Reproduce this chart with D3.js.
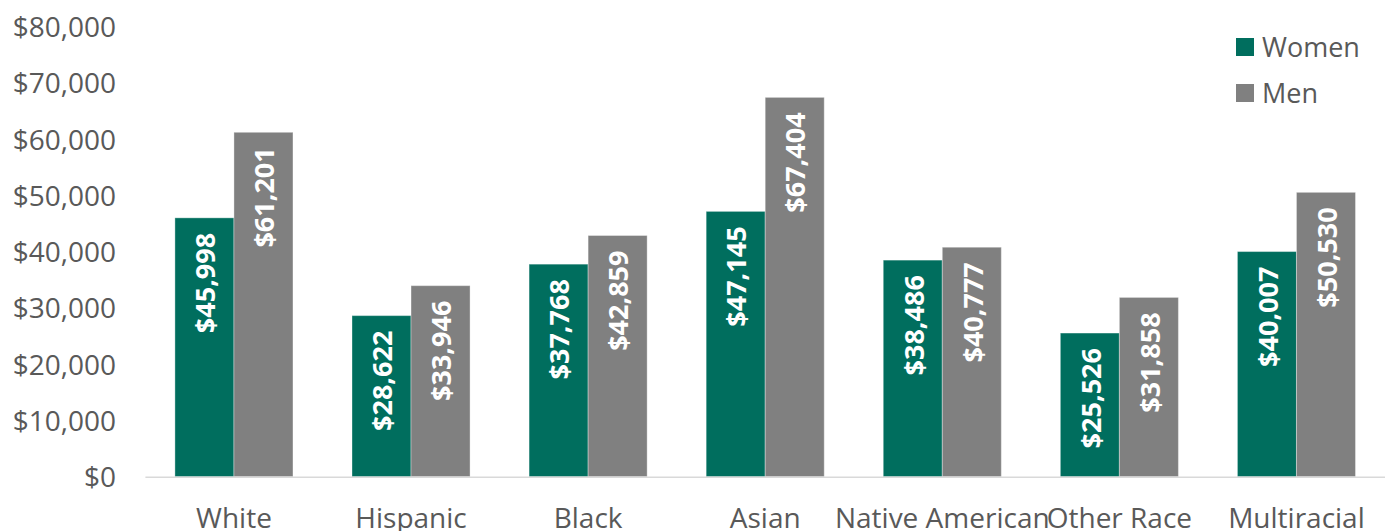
<!DOCTYPE html>
<html>
<head>
<meta charset="utf-8">
<script src="https://cdn.jsdelivr.net/npm/d3@7"></script>
<style>
  body { margin: 0; background: #fff; }
  svg text { font-family: "Open Sans", sans-serif; }
  .tick text { fill: #595959; font-size: 28px; }
  .vals { fill: #fff; font-size: 27px; font-weight: bold; }
</style>
</head>
<body>
<svg class="chart" width="1390" height="531"></svg>
<script>
const categories = ["White", "Hispanic", "Black", "Asian", "Native American", "Other Race", "Multiracial"]
const series = ["Women", "Men"]
const women = [45998, 28622, 37768, 47145, 38486, 25526, 40007]
const men = [61201, 33946, 42859, 67404, 40777, 31858, 50530]
const yTicks = [0, 10000, 20000, 30000, 40000, 50000, 60000, 70000, 80000]
const colors = ["#006e5e", "#808080"]

const svg = d3.select("svg.chart")

const x = d3.scaleBand()
    .domain(categories)
    .range([145.4, 1385])
    .paddingInner(0)
    .paddingOuter(0)

const inner = d3.scaleBand()
    .domain(series)
    .range([0, x.bandwidth()])
    .paddingInner(0)
    .paddingOuter(0.5)

const y = d3.scaleLinear()
    .domain([0, 80000])
    .range([476.7, 26.5])

const money = d3.format("$,")

// y axis labels only, no line
const yAxis = svg.append("g")
    .attr("transform", "translate(116,0)")
    .call(d3.axisLeft(y).tickValues(yTicks).tickFormat(money).tickSize(0).tickPadding(0))
yAxis.select(".domain").remove()
yAxis.selectAll("text").attr("dy", "0.36em")

// category labels
const xAxis = svg.append("g")
    .attr("transform", "translate(0,476.7)")
    .call(d3.axisBottom(x).tickSize(0).tickPadding(0))
xAxis.select(".domain").remove()
xAxis.selectAll("text").attr("dy", null).attr("y", 51)

const rows = categories.map((c, i) => ({cat: c, vals: [women[i], men[i]]}))

const groups = svg.selectAll("g.grp")
    .data(rows)
    .enter()
    .append("g")
    .attr("class", "grp")
    .attr("transform", d => "translate(" + x(d.cat) + ",0)")

groups.selectAll("rect")
    .data(d => d.vals.map((v, j) => ({s: series[j], v: v, j: j})))
    .enter()
    .append("rect")
    .attr("x", d => inner(d.s))
    .attr("width", inner.bandwidth())
    .attr("y", d => y(d.v))
    .attr("height", d => y(0) - y(d.v))
    .attr("fill", d => colors[d.j])
    .attr("stroke", "#ffffff")
    .attr("stroke-opacity", 0.35)
    .attr("stroke-width", 1)

groups.selectAll("text.vals")
    .data(d => d.vals.map((v, j) => ({s: series[j], v: v, j: j})))
    .enter()
    .append("text")
    .attr("class", "vals")
    .attr("text-anchor", "end")
    .attr("dy", "0.36em")
    .attr("transform", d => "translate(" + (inner(d.s) + inner.bandwidth() / 2 + 1) + "," + (y(d.v) + 15) + ") rotate(-90)")
    .text(d => money(d.v))

// baseline
svg.append("line")
    .attr("x1", x.range()[0])
    .attr("x2", x.range()[1])
    .attr("y1", y(0) + 0.5)
    .attr("y2", y(0) + 0.5)
    .attr("stroke", "#d9d9d9")
    .attr("stroke-width", 1.5)

// legend
const legend = svg.selectAll("g.legend")
    .data(series)
    .enter()
    .append("g")
    .attr("class", "legend")
    .attr("transform", (d, i) => "translate(1236," + (38 + i * 46) + ")")

legend.append("rect")
    .attr("width", 18)
    .attr("height", 18)
    .attr("fill", (d, i) => colors[i])

legend.append("text")
    .attr("x", 26)
    .attr("y", 9)
    .attr("dy", "0.36em")
    .attr("fill", "#595959")
    .attr("font-size", 27)
    .text(d => d)
</script>
</body>
</html>
